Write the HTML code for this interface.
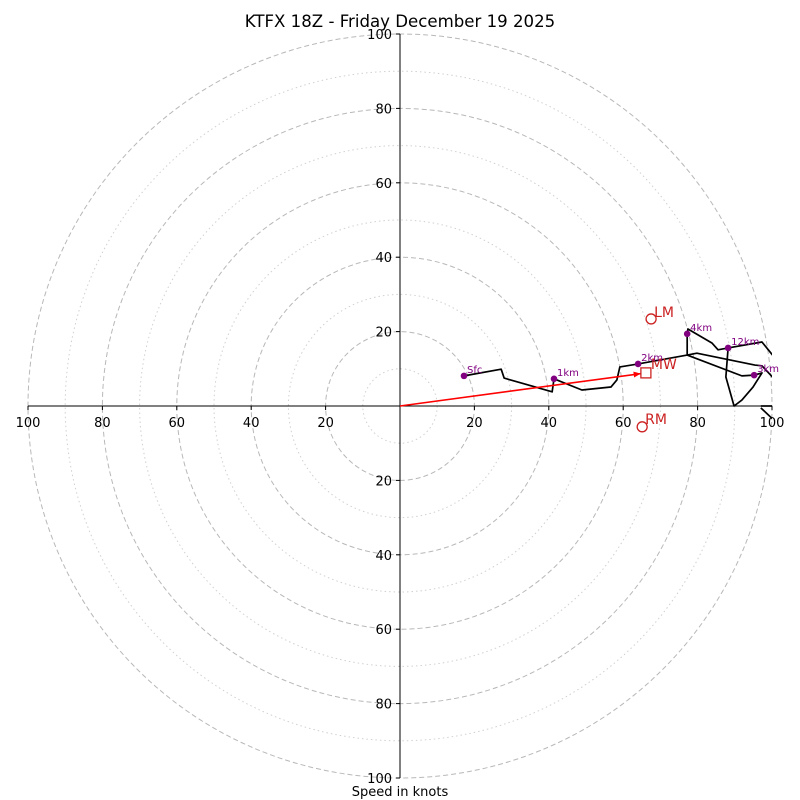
<!DOCTYPE html>
<html><head><meta charset="utf-8"><style>
body{margin:0;background:#fff}
svg{display:block;font-family:"DejaVu Sans","Liberation Sans",sans-serif}
</style></head><body>
<svg id="chart" width="800" height="800" viewBox="0 0 800 800">
<defs><clipPath id="clip"><rect x="28" y="35" width="744" height="742"/></clipPath></defs>
<text x="400" y="27" font-size="16.6" text-anchor="middle">KTFX 18Z - Friday December 19 2025</text>
<g id="grid"></g>
<g id="axes"></g>
<g id="trace" clip-path="url(#clip)"></g>
<g id="marks"></g>
<text x="400" y="796" font-size="13" text-anchor="middle">Speed in knots</text>
</svg>
<script>
const cx=400, cy=406, scale=3.72;
const ringMajor=[20,40,60,80,100];
const ringMinor=[10,30,50,70,90];
const tickVals=[20,40,60,80,100];
const seg1=[[17.2,8.1],[27.2,9.9],[28.0,7.5],[40.9,3.8],[41.4,7.3],[48.9,4.3],[56.7,5.1],[58.3,7.0],[59.1,10.5],[64.0,11.3],[77.2,13.7],[77.2,19.4],[77.4,20.7],[83.9,16.9],[85.5,15.1],[88.2,15.6],[97.3,17.2],[100.8,12.9]];
const seg2=[[77.2,13.7],[79.8,14.2],[95.4,11.0],[97.3,10.8],[102.2,5.6]];
const seg3=[[77.2,13.7],[91.9,8.1],[95.2,8.3],[97.3,8.9],[94.9,5.1],[91.9,1.6],[89.8,0],[87.6,7.8],[88.2,15.6]];
const seg4=[[97.0,0],[100.5,0]];
const seg5=[[97.0,-0.5],[100.5,-3.8]];
const levelNames=["Sfc","1km","2km","3km","4km","12km"];
const levelU=[17.2,41.4,64.0,95.2,77.2,88.2];
const levelV=[8.1,7.3,11.3,8.3,19.4,15.6];
const lm=[67.5,23.4], mw=[66.1,8.9], rm=[65.1,-5.6];
const X=u=>cx+u*scale, Y=v=>cy-v*scale;
const NS="http://www.w3.org/2000/svg";
function mk(tag,attrs,parent){const e=document.createElementNS(NS,tag);for(const k in attrs)e.setAttribute(k,attrs[k]);parent.appendChild(e);return e;}
const grid=document.getElementById('grid'),axes=document.getElementById('axes'),trace=document.getElementById('trace'),marks=document.getElementById('marks');
ringMinor.forEach(r=>{const c=mk('circle',{cx:cx,cy:cy,r:r*scale,fill:'none',stroke:'#d0d0d0','stroke-width':1,'stroke-dasharray':'1.5,3'},grid);

});
ringMajor.forEach(r=>{const c=mk('circle',{cx:cx,cy:cy,r:r*scale,fill:'none',stroke:'#b8b8b8','stroke-width':1,'stroke-dasharray':'5,3'},grid);

});
mk('line',{x1:X(-100),y1:cy,x2:X(100),y2:cy,stroke:'#000','stroke-width':1},axes);
mk('line',{x1:cx,y1:Y(100),x2:cx,y2:Y(-100),stroke:'#000','stroke-width':1},axes);
tickVals.forEach(v=>{[-1,1].forEach(s=>{
 mk('line',{x1:X(s*v),y1:cy,x2:X(s*v),y2:cy+4,stroke:'#000'},axes);
 const t=mk('text',{x:X(s*v),y:cy+21,'font-size':13,'text-anchor':'middle'},axes);t.textContent=v;
 
 
 mk('line',{x1:cx-4,y1:Y(s*v),x2:cx,y2:Y(s*v),stroke:'#000'},axes);
 const t2=mk('text',{x:cx-8,y:Y(s*v)+5,'font-size':13,'text-anchor':'end'},axes);t2.textContent=v;
 
 
});});
[seg1,seg2,seg3,seg4,seg5].forEach((s,i)=>{const p=mk('polyline',{points:s.map(d=>X(d[0])+','+Y(d[1])).join(' '),fill:'none',stroke:'#000','stroke-width':1.7,'stroke-linejoin':'round'},trace);

});
const ar=mk('line',{x1:cx,y1:cy,x2:X(mw[0]-1.4),y2:Y(mw[1]-0.2),stroke:'#ff0000','stroke-width':1.6},marks);


const ax=X(mw[0]-1.4),ay=Y(mw[1]-0.2),ang=Math.atan2(ay-cy,ax-cx);
const hp=[[ax,ay],[ax-7*Math.cos(ang)+3*Math.sin(ang),ay-7*Math.sin(ang)-3*Math.cos(ang)],[ax-7*Math.cos(ang)-3*Math.sin(ang),ay-7*Math.sin(ang)+3*Math.cos(ang)]];
mk('polygon',{points:hp.map(p=>p.join(',')).join(' '),fill:'#ff0000'},marks);
const c1=mk('circle',{cx:X(lm[0]),cy:Y(lm[1]),r:5,fill:'none',stroke:'#cc2222','stroke-width':1.3},marks);


const c2=mk('circle',{cx:X(rm[0]),cy:Y(rm[1]),r:5,fill:'none',stroke:'#cc2222','stroke-width':1.3},marks);


const sq=mk('rect',{x:X(mw[0])-5,y:Y(mw[1])-5,width:10,height:10,fill:'none',stroke:'#cc2222','stroke-width':1.3},marks);


[['LM',lm,3,-2],['MW',mw,5,-4],['RM',rm,3,-3]].forEach(([n,p,dx,dy])=>{const t=mk('text',{x:X(p[0])+dx,y:Y(p[1])+dy,'font-size':14,fill:'#cc2222'},marks);t.textContent=n;

});
levelNames.forEach((n,i)=>{const c=mk('circle',{cx:X(levelU[i]),cy:Y(levelV[i]),r:3.3,fill:'#800080'},marks);


const t=mk('text',{x:X(levelU[i])+3,y:Y(levelV[i])-3,'font-size':10,fill:'#800080'},marks);t.textContent=n;

});
</script>
</body></html>
